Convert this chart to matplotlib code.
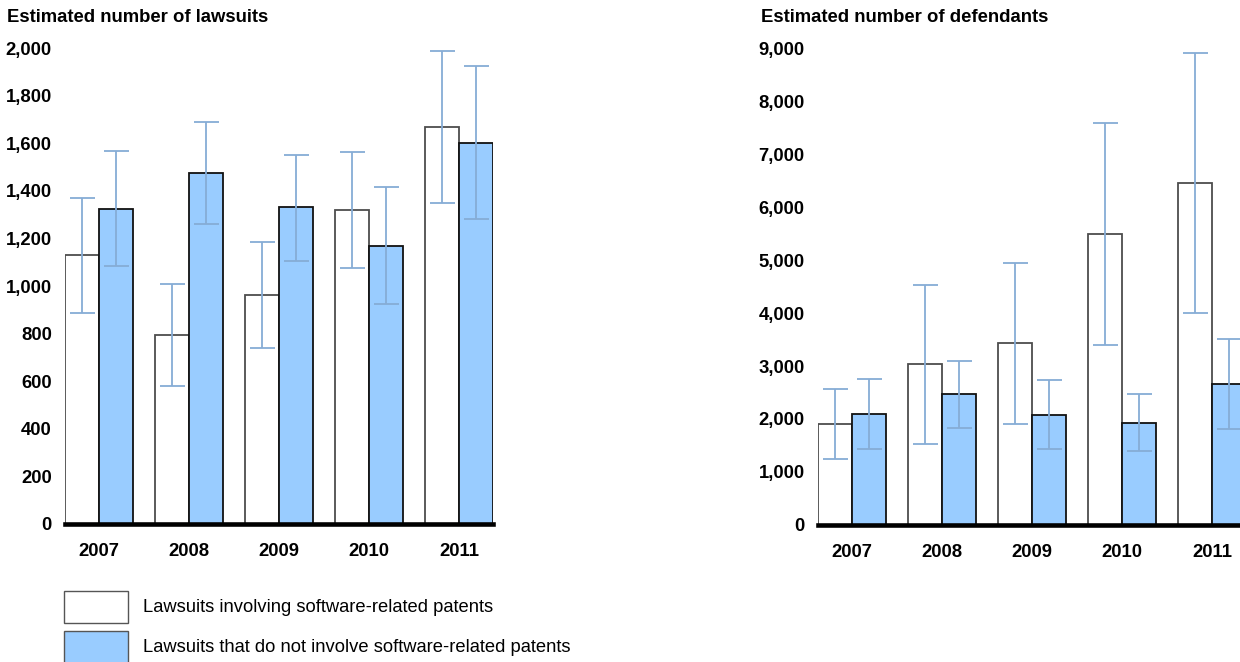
import matplotlib
matplotlib.use("Agg")
import matplotlib.pyplot as plt
import numpy as np
from matplotlib.patches import Rectangle

plt.rcParams['font.family'] = ['Liberation Sans', 'DejaVu Sans']

years = ["2007", "2008", "2009", "2010", "2011"]

# Lawsuits
law_sw = [1130, 795, 963, 1320, 1667]
law_sw_lo = [887, 581, 739, 1075, 1347]
law_sw_hi = [1370, 1008, 1186, 1565, 1989]
law_non = [1324, 1474, 1330, 1170, 1601]
law_non_lo = [1085, 1261, 1107, 925, 1280]
law_non_hi = [1567, 1687, 1551, 1415, 1924]

# Defendants
def_sw = [1902, 3032, 3436, 5493, 6464]
def_sw_lo = [1240, 1524, 1908, 3398, 4003]
def_sw_hi = [2565, 4533, 4950, 7600, 8925]
def_non = [2098, 2464, 2073, 1927, 2654]
def_non_lo = [1435, 1821, 1423, 1385, 1802]
def_non_hi = [2760, 3101, 2729, 2470, 3517]

law_ticks = [0, 200, 400, 600, 800, 1000, 1200, 1400, 1600, 1800, 2000]
def_ticks = [0, 1000, 2000, 3000, 4000, 5000, 6000, 7000, 8000, 9000]

W, H = 1240, 662
fig = plt.figure(figsize=(W / 100, H / 100), dpi=100)

BW = 0.376
ERR_C = '#86acd6'
FILL = '#99ccff'


def panel(rect, sw, swlo, swhi, non, nonlo, nonhi, ticks, title, title_x):
    ax = fig.add_axes(rect)
    x = np.arange(len(years))
    ax.bar(x - BW / 2, sw, BW, color='white', edgecolor='#4d4d4d', linewidth=1.3, zorder=2)
    ax.bar(x + BW / 2, non, BW, color=FILL, edgecolor='#111111', linewidth=1.3, zorder=2)
    sw = np.array(sw); non = np.array(non)
    ax.errorbar(x - BW / 2, sw, yerr=[sw - np.array(swlo), np.array(swhi) - sw], fmt='none',
                ecolor=ERR_C, elinewidth=1.3, capsize=9, capthick=1.3, zorder=3)
    ax.errorbar(x + BW / 2, non, yerr=[non - np.array(nonlo), np.array(nonhi) - non], fmt='none',
                ecolor=ERR_C, elinewidth=1.3, capsize=9, capthick=1.3, zorder=3)
    ax.set_xlim(-BW, len(years) - 1 + BW)
    ax.set_ylim(0, ticks[-1])
    ax.set_yticks(ticks)
    ax.set_yticklabels([f"{t:,}" for t in ticks], fontsize=13.3, fontweight='bold')
    ax.set_xticks(x)
    ax.set_xticklabels(years, fontsize=13.3, fontweight='bold')
    ax.tick_params(axis='both', length=0)
    ax.tick_params(axis='y', pad=9.5)
    ax.tick_params(axis='x', pad=14)
    for s in ['top', 'right', 'left']:
        ax.spines[s].set_visible(False)
    ax.spines['bottom'].set_linewidth(3.3)
    ax.spines['bottom'].set_zorder(4)
    fig.text(title_x / W, 1 - 17 / H, title, fontsize=13.3, fontweight='bold', va='center', ha='left')
    return ax


panel([65 / W, (H - 524) / H, 428 / W, 476 / H], law_sw, law_sw_lo, law_sw_hi,
      law_non, law_non_lo, law_non_hi, law_ticks, "Estimated number of lawsuits", 7)
panel([818 / W, (H - 524.5) / H, 428 / W, 475.5 / H], def_sw, def_sw_lo, def_sw_hi,
      def_non, def_non_lo, def_non_hi, def_ticks, "Estimated number of defendants", 761)

# Legend
legend_items = [("Lawsuits involving software-related patents", 'white'),
                ("Lawsuits that do not involve software-related patents", FILL)]
for i, (lab, col) in enumerate(legend_items):
    top = 591 + 40 * i
    fig.patches.append(Rectangle((64 / W, 1 - (top + 32) / H), 64 / W, 32 / H,
                                 transform=fig.transFigure, facecolor=col,
                                 edgecolor='#555555', linewidth=1.0))
    fig.text(143 / W, 1 - (top + 17) / H, lab, fontsize=13.2, va='center', ha='left')

fig.savefig("out.png", dpi=100)
